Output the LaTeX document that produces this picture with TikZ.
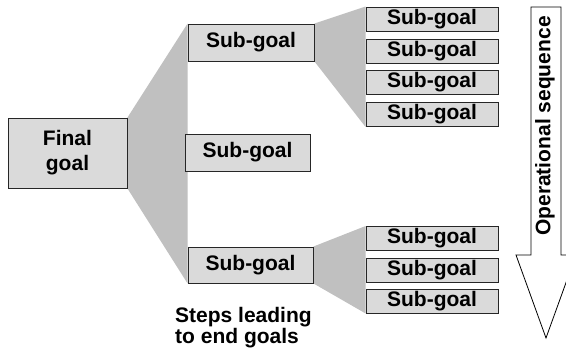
\documentclass[tikz,border=0pt]{standalone}
\usepackage{fontspec}
\setmainfont{Liberation Sans}
\usetikzlibrary{backgrounds}
\definecolor{boxgray}{RGB}{218,218,218}
\definecolor{fangray}{RGB}{192,192,192}
\tikzset{
  goalbox/.style={draw=black!85, fill=boxgray, line width=0.9pt, inner sep=0pt,
    font=\fontsize{21}{25}\selectfont\bfseries, align=center},
  midbox/.style={goalbox, minimum width=125pt, minimum height=37pt},
  endbox/.style={goalbox, minimum width=132pt, minimum height=24pt},
  fan/.style={fill=fangray, draw=none},
  seqarrow/.style={draw=black, line width=0.8pt, fill=white},
  plaintext/.style={font=\fontsize{21}{20.5}\selectfont\bfseries, inner sep=0pt}
}
\begin{document}
\begin{tikzpicture}[x=1pt,y=-1pt]
\clip (0,0) rectangle (566,352);
% boxes
\node[goalbox, minimum width=119pt, minimum height=70pt] (final) at (67.5,153) {Final\\goal};
\node[midbox, minimum width=126pt] (m1) at (251,42.5) {Sub-goal};
\node[midbox] (m2) at (247.5,152.5) {Sub-goal};
\node[midbox, minimum height=36pt] (m3) at (250.5,265) {Sub-goal};
\node[endbox] (r1) at (432,19) {Sub-goal};
\node[endbox] (r2) at (432,51) {Sub-goal};
\node[endbox] (r3) at (432,82.5) {Sub-goal};
\node[endbox] (r4) at (432,114.5) {Sub-goal};
\node[endbox] (r5) at (432,238.5) {Sub-goal};
\node[endbox] (r6) at (432,270) {Sub-goal};
\node[endbox] (r7) at (432,301) {Sub-goal};
% fans
\begin{scope}[on background layer]
\fill[white] (0,0) rectangle (566,352);
\fill[fan] (final.north east) -- (m1.north west) -- (m3.south west) -- (final.south east) -- cycle;
\fill[fan] (m1.north east) -- (r1.north west) -- (r4.south west) -- (m1.south east) -- cycle;
\fill[fan] (m3.north east) -- (r5.north west) -- (r7.south west) -- (m3.south east) -- cycle;
\end{scope}
% arrow
\draw[seqarrow] (531,7) -- (561,7) -- (561,255) -- (576,255) -- (546,338) -- (516,255) -- (531,255) -- cycle;
\node[plaintext, rotate=90] (seq) at (545,126) {Operational sequence};
% caption
\node[plaintext, anchor=north west, align=left] (steps) at (175,307.5) {Steps leading\\to end goals};
\end{tikzpicture}
\end{document}
